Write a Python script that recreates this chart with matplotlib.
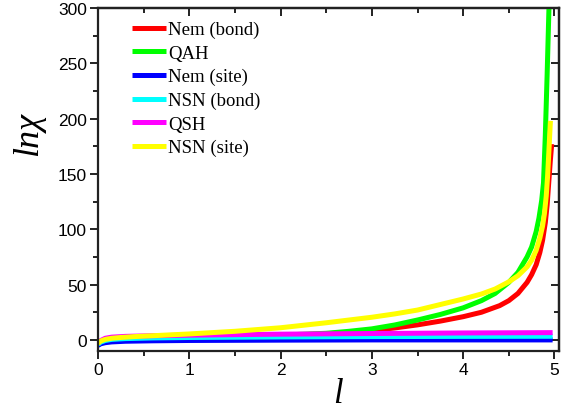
import matplotlib
matplotlib.use('Agg')
import matplotlib.pyplot as plt
from matplotlib.ticker import MultipleLocator

# values
x_nem_bond = [0, 0.03, 0.08, 0.15, 0.3, 0.6, 1.0, 1.5, 2.0, 2.5, 2.75, 3.0,
              3.25, 3.5, 3.75, 4.0, 4.2, 4.4, 4.5, 4.6, 4.7, 4.75, 4.8, 4.84,
              4.87, 4.9, 4.92, 4.94, 4.955, 4.97]
y_nem_bond = [-4.5, -2.5, -1, 0, 0.8, 1.5, 2.2, 3.0, 4.0, 5.5, 6.8, 8.4,
              10.8, 13.6, 17, 21, 25, 31, 35.5, 42, 52, 59, 68, 79,
              90, 106, 122, 145, 162, 177]

x_qah = [0, 0.03, 0.08, 0.15, 0.3, 0.6, 1.0, 1.5, 2.0, 2.5, 2.75, 3.0, 3.25,
         3.5, 3.75, 4.0, 4.2, 4.35, 4.5, 4.6, 4.7, 4.75, 4.8, 4.83, 4.86,
         4.88, 4.9, 4.92, 4.94]
y_qah = [-4.5, -2.5, -1, 0, 0.8, 1.5, 2.2, 3.2, 4.3, 6, 7.8, 10, 13.5,
         18, 23, 29, 35.5, 42, 52, 61, 75, 84, 98, 110, 126,
         142, 185, 240, 300]

x_flat = [0, 0.03, 0.08, 0.15, 0.3, 0.6, 1, 2, 3, 4, 4.98]
y_nem_site = [-5, -3.5, -2.5, -1.8, -1.2, -0.8, -0.5, -0.2, 0, 0, 0]
y_nsn_bond = [-4, -2, -0.5, 0.5, 1.2, 1.8, 2.2, 2.7, 3.0, 3.2, 3.3]
y_qsh = [-3, -0.5, 1.5, 2.5, 3.2, 3.8, 4.3, 5.2, 5.8, 6.3, 6.6]

x_nsn_site = [0, 0.03, 0.08, 0.15, 0.25, 0.4, 0.6, 1.0, 1.5, 2.0, 2.5, 2.75,
              3.0, 3.25, 3.5, 3.75, 4.0, 4.2, 4.35, 4.5, 4.6, 4.7, 4.75, 4.8,
              4.84, 4.87, 4.89, 4.91, 4.925, 4.94, 4.956]
y_nsn_site = [-3, -1, 0.5, 1.5, 2.2, 3.0, 3.8, 5.4, 7.8, 11, 15.5, 18,
              20.5, 23.5, 27, 32, 37, 41.5, 46, 52.5, 58, 66, 72, 81,
              92, 103, 114, 130, 148, 172, 198]

series = [
    ('Nem (bond)', x_nem_bond, y_nem_bond, '#ff0000'),
    ('QAH', x_qah, y_qah, '#00ff00'),
    ('Nem (site)', x_flat, y_nem_site, '#0000ff'),
    ('NSN (bond)', x_flat, y_nsn_bond, '#00ffff'),
    ('QSH', x_flat, y_qsh, '#ff00ff'),
    ('NSN (site)', x_nsn_site, y_nsn_site, '#ffff00'),
]

fig = plt.figure(figsize=(5.71, 4.10), dpi=100)
ax = fig.add_axes([0.1716, 0.1415, 0.8074, 0.8365])

for label, xs, ys, col in series:
    ax.plot(xs, ys, color=col, lw=3.6, label=label, solid_capstyle='butt',
            solid_joinstyle='round')

ax.set_xlim(0, 5.05)
ax.set_ylim(-10, 300)
ax.xaxis.set_major_locator(MultipleLocator(1))
ax.xaxis.set_minor_locator(MultipleLocator(0.5))
ax.yaxis.set_major_locator(MultipleLocator(50))
ax.yaxis.set_minor_locator(MultipleLocator(25))

for s in ax.spines.values():
    s.set_linewidth(1.6)
    s.set_color('#222222')

ax.tick_params(which='both', direction='out', top=False, right=False,
               width=1.4, color='#222222')
ax.tick_params(which='major', length=6, labelsize=12.5, pad=2)
ax.tick_params(which='minor', length=3.5)
for lab in ax.get_xticklabels() + ax.get_yticklabels():
    lab.set_family('Liberation Sans')

# inward ticks on top and right without labels
sec_x = ax.secondary_xaxis('top')
sec_x.xaxis.set_major_locator(MultipleLocator(1))
sec_x.xaxis.set_minor_locator(MultipleLocator(0.5))
sec_x.tick_params(which='both', direction='in', width=1.4, labeltop=False,
                  color='#222222')
sec_x.tick_params(which='major', length=6)
sec_x.tick_params(which='minor', length=3.5)
sec_x.spines['top'].set_linewidth(1.6)
sec_y = ax.secondary_yaxis('right')
sec_y.yaxis.set_major_locator(MultipleLocator(50))
sec_y.yaxis.set_minor_locator(MultipleLocator(25))
sec_y.tick_params(which='both', direction='in', width=1.4, labelright=False,
                  color='#222222')
sec_y.tick_params(which='major', length=6)
sec_y.tick_params(which='minor', length=3.5)
sec_y.spines['right'].set_linewidth(1.6)

ax.set_xlabel('l', family='Liberation Serif', style='italic', fontsize=25,
              labelpad=0)
ax.set_ylabel('lnχ', family='Liberation Serif', style='italic', fontsize=26)
ax.yaxis.set_label_coords(-0.115, 0.635)
ax.xaxis.set_label_coords(0.52, -0.075)

ax.legend(loc='upper left', bbox_to_anchor=(0.05, 0.995), frameon=False,
          prop={'family': 'Liberation Serif', 'size': 13.5},
          handlelength=1.8, handletextpad=0.1, labelspacing=0.34,
          borderaxespad=0.2)

fig.savefig('out.png', dpi=100)
